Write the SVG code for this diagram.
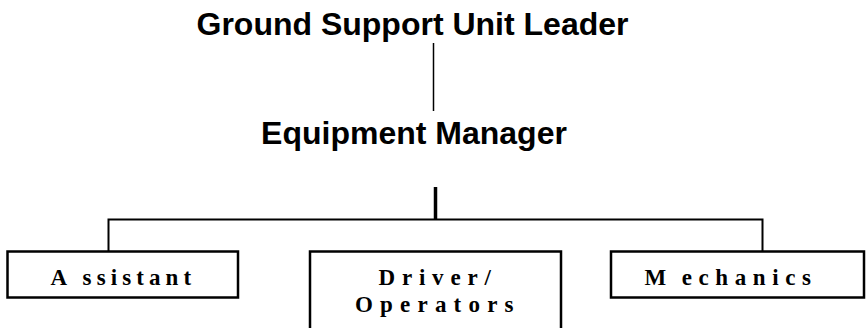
<svg xmlns="http://www.w3.org/2000/svg" width="867" height="328" viewBox="0 0 867 328">
<style>
.title{font-family:"Liberation Sans",Arial,sans-serif;font-weight:bold;font-size:32px;fill:#000}
.box{fill:#fff;stroke:#000;stroke-width:2.5}
.lbl{font-family:"Liberation Serif","Times New Roman",serif;font-weight:bold;font-size:23px;fill:#000}
.conn{stroke:#000;fill:none}
</style>
<rect width="867" height="328" fill="#fff"/>
<g id="connectors">
<line class="conn" x1="433.5" y1="43" x2="433.5" y2="111" stroke-width="1.5"/>
<line class="conn" x1="435.5" y1="187" x2="435.5" y2="219.5" stroke-width="3.5"/>
<polyline class="conn" points="108.5,251 108.5,219.5 762.5,219.5 762.5,251" stroke-width="2"/>
</g>
<g id="ground-support-unit-leader">
<text class="title" x="412.5" y="35" text-anchor="middle">Ground Support Unit Leader</text>
</g>
<g id="equipment-manager">
<text class="title" x="414" y="143.5" text-anchor="middle">Equipment Manager</text>
</g>
<g id="assistant">
<rect class="box" x="7.5" y="251.5" width="230.5" height="46"/>
<text class="lbl" x="50.5" y="284.5" letter-spacing="5.1" word-spacing="0.8">A ssistant</text>
</g>
<g id="driver-operators">
<rect class="box" x="310" y="251.5" width="251" height="90"/>
<text class="lbl" x="378.5" y="285" letter-spacing="6.8">Driver/</text>
<text class="lbl" x="355" y="311.5" letter-spacing="7.2">Operators</text>
</g>
<g id="mechanics">
<rect class="box" x="611" y="251.5" width="253" height="46"/>
<text class="lbl" x="644.5" y="284.5" letter-spacing="6.6" word-spacing="-3.5">M echanics</text>
</g>
</svg>
